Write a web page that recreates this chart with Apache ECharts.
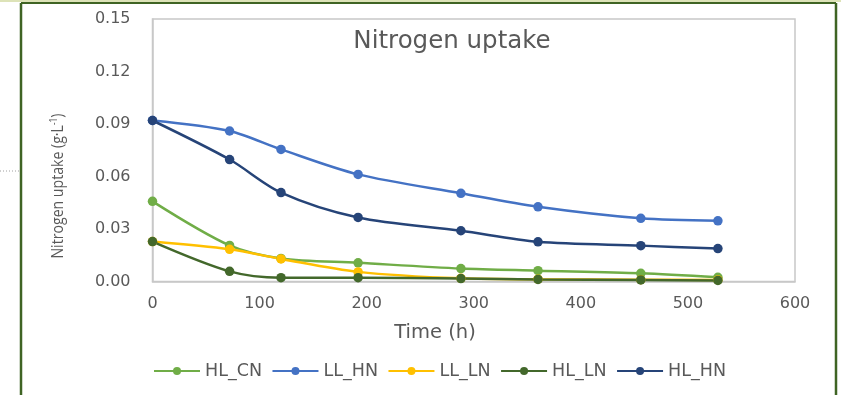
<!DOCTYPE html>
<html>
<head>
<meta charset="utf-8">
<script src="https://cdn.jsdelivr.net/npm/echarts@6/dist/echarts.min.js"></script>
<style>
  html, body { margin: 0; padding: 0; background: #ffffff; }
  #chart { width: 841px; height: 395px; }
</style>
</head>
<body>
<div id="chart"></div>
<script>
// Sampling times (h)
const times = [0, 72, 120, 192, 288, 360, 456, 528];

// Nitrogen uptake (g·L-1) per treatment
const seriesNames = ['HL_CN', 'LL_HN', 'LL_LN', 'HL_LN', 'HL_HN'];
const HL_CN = [0.0458, 0.0206, 0.0132, 0.0107, 0.0074, 0.0062, 0.0047, 0.0024];
const LL_HN = [0.0920, 0.0860, 0.0755, 0.0612, 0.0504, 0.0427, 0.0361, 0.0347];
const LL_LN = [0.0228, 0.0184, 0.0129, 0.0055, 0.0018, 0.0013, 0.0010, 0.0009];
const HL_LN = [0.0228, 0.0058, 0.0022, 0.0022, 0.0017, 0.0012, 0.0009, 0.0006];
const HL_HN = [0.0920, 0.0697, 0.0508, 0.0366, 0.0290, 0.0227, 0.0205, 0.0188];

const xTicks = { min: 0, max: 600, interval: 100 };
const yTicks = { min: 0, max: 0.15, interval: 0.03 };

const colors = {
  HL_CN: '#70AD47',
  LL_HN: '#4472C4',
  LL_LN: '#FFC000',
  HL_LN: '#43682B',
  HL_HN: '#264478'
};
const values = { HL_CN, LL_HN, LL_LN, HL_LN, HL_HN };

const textColor = '#595959';
const fontFamily = 'DejaVu Sans';
const nameFont = '"Open Sans", sans-serif';

const chart = echarts.init(document.getElementById('chart'), null, { renderer: 'canvas' });

const series = seriesNames.map(name => ({
  name: name,
  type: 'line',
  smooth: 0.3,
  data: times.map((t, i) => [t, values[name][i]]),
  symbol: 'circle',
  symbolSize: 9.5,
  showSymbol: true,
  lineStyle: { color: colors[name], width: 2.5 },
  itemStyle: { color: colors[name] },
  emphasis: { disabled: true },
  animation: false
}));

chart.setOption({
  animation: false,
  backgroundColor: '#ffffff',
  title: {
    text: 'Nitrogen uptake',
    left: 447,
    top: 24,
    textAlign: 'center',
    textStyle: { color: textColor, fontFamily: fontFamily, fontSize: 24.5, fontWeight: 'normal' }
  },
  grid: {
    left: 152.5,
    right: 46,
    top: 19,
    bottom: 113.5,
    show: true,
    borderColor: '#C8C8C8',
    borderWidth: 1.5,
    backgroundColor: 'transparent'
  },
  xAxis: {
    type: 'value',
    min: xTicks.min,
    max: xTicks.max,
    interval: xTicks.interval,
    axisLine: { show: true, lineStyle: { color: '#C8C8C8', width: 1.5 } },
    axisTick: { show: false },
    splitLine: { show: false },
    axisLabel: { color: textColor, fontFamily: fontFamily, fontSize: 16, margin: 14 }
  },
  yAxis: {
    type: 'value',
    min: yTicks.min,
    max: yTicks.max,
    interval: yTicks.interval,
    axisLine: { show: true, lineStyle: { color: '#C8C8C8', width: 1.5 } },
    axisTick: { show: false },
    splitLine: { show: false },
    axisLabel: {
      color: textColor, fontFamily: fontFamily, fontSize: 16, margin: 22,
      formatter: v => v.toFixed(2)
    }
  },
  legend: {
    data: seriesNames,
    left: 148,
    top: 357,
    itemWidth: 46,
    itemHeight: 10,
    itemGap: 9.5,
    textStyle: { color: textColor, fontFamily: fontFamily, fontSize: 17.5 },
    selectedMode: false
  },
  graphic: [
    // outer frame
    { type: 'rect', shape: { x: 0, y: 0, width: 841, height: 2 }, style: { fill: '#DDE3B8' }, silent: true },
    { type: 'line', shape: { x1: 21, y1: 3, x2: 836, y2: 3 }, style: { stroke: '#3F6424', lineWidth: 2 }, silent: true },
    { type: 'line', shape: { x1: 21, y1: 3, x2: 21, y2: 395 }, style: { stroke: '#3F6424', lineWidth: 2.5 }, silent: true },
    { type: 'line', shape: { x1: 836, y1: 3, x2: 836, y2: 395 }, style: { stroke: '#3F6424', lineWidth: 2.5 }, silent: true },
    { type: 'line', shape: { x1: 0, y1: 171, x2: 19, y2: 171 }, style: { stroke: '#A0A0A0', lineWidth: 1, lineDash: [1, 2] }, silent: true },
    // x-axis title
    {
      type: 'text',
      x: 435,
      y: 333,
      silent: true,
      style: {
        text: 'Time (h)',
        fill: textColor,
        fontFamily: fontFamily,
        fontSize: 19.5,
        align: 'center',
        verticalAlign: 'middle'
      }
    },
    // y-axis title (condensed along its length)
    {
      type: 'text',
      x: 58,
      y: 186,
      rotation: Math.PI / 2,
      scaleX: 0.83,
      silent: true,
      style: {
        text: 'Nitrogen uptake (g·L{sup|-1})',
        fill: textColor,
        fontFamily: nameFont,
        fontSize: 17,
        align: 'center',
        verticalAlign: 'middle',
        rich: {
          sup: { fontSize: 10, fill: textColor, fontFamily: nameFont, verticalAlign: 'top', padding: [0, 0, 8, 0] }
        }
      }
    }
  ],
  series: series
});
</script>
</body>
</html>
